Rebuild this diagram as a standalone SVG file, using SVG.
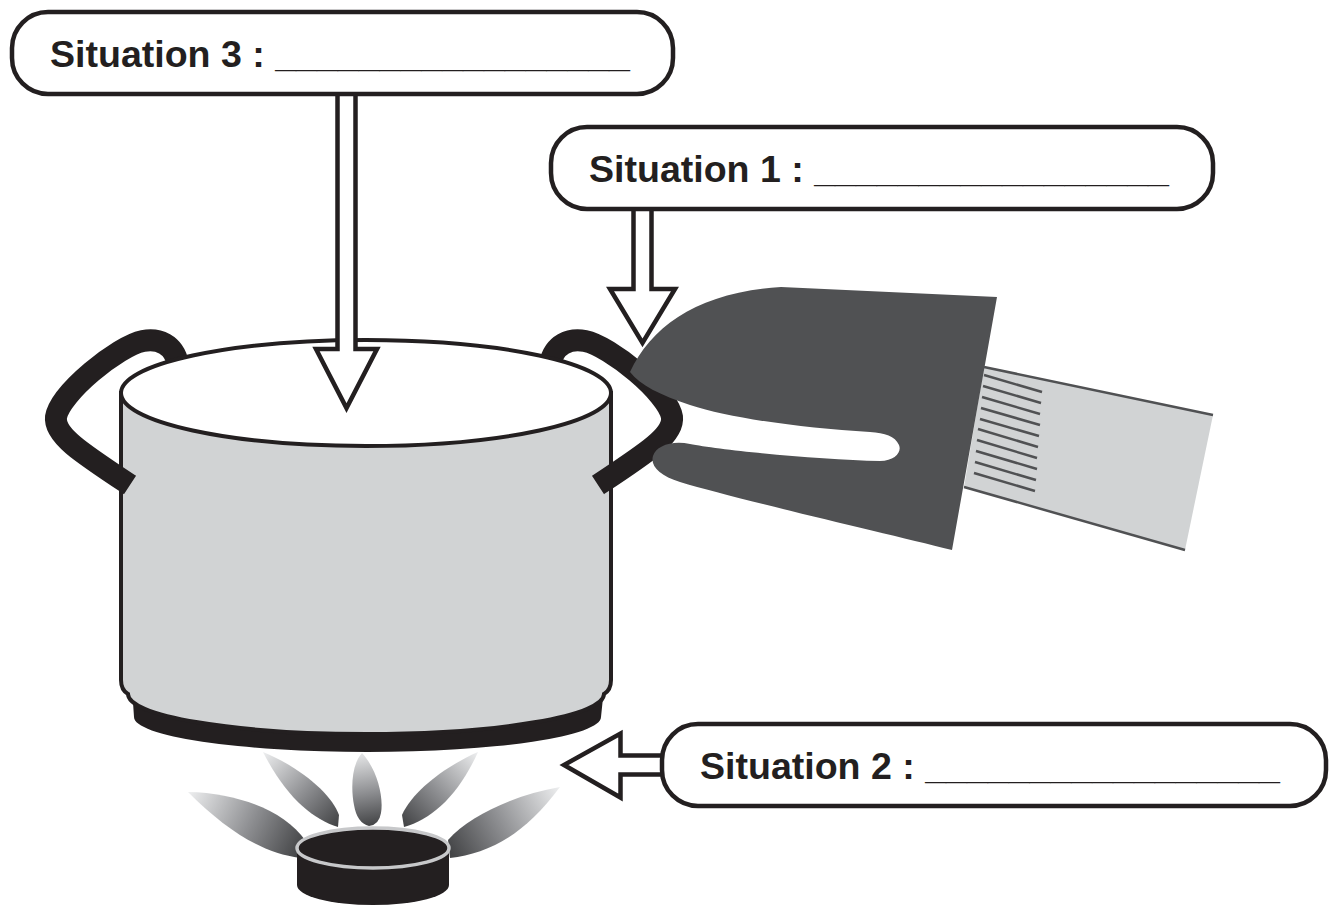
<svg xmlns="http://www.w3.org/2000/svg" width="1335" height="905" viewBox="0 0 1335 905">
<style>
.ink{stroke:#231f20;stroke-width:4;}
.box{fill:#ffffff;stroke:#231f20;stroke-width:4.5;}
.lbl{font-family:"Liberation Sans",Arial,sans-serif;font-weight:bold;font-size:37px;fill:#231f20;}
.arrow{fill:#ffffff;stroke:#231f20;stroke-width:4.5;stroke-linejoin:miter;stroke-miterlimit:10;}
.handle{fill:none;stroke:#231f20;stroke-width:22;stroke-linecap:butt;}
.stripe{stroke:#505153;stroke-width:2.5;}
</style>
<defs>
<linearGradient id="f1" gradientUnits="userSpaceOnUse" x1="188" y1="792" x2="302" y2="848"><stop offset="0" stop-color="#eeeff0"/><stop offset="0.55" stop-color="#8e8f92"/><stop offset="1" stop-color="#444547"/></linearGradient>
<linearGradient id="f2" gradientUnits="userSpaceOnUse" x1="263" y1="752" x2="338" y2="824"><stop offset="0" stop-color="#eeeff0"/><stop offset="0.55" stop-color="#8e8f92"/><stop offset="1" stop-color="#444547"/></linearGradient>
<linearGradient id="f3" gradientUnits="userSpaceOnUse" x1="360" y1="753" x2="372" y2="825"><stop offset="0" stop-color="#e6e7e8"/><stop offset="0.55" stop-color="#8e8f92"/><stop offset="1" stop-color="#444547"/></linearGradient>
<linearGradient id="f4" gradientUnits="userSpaceOnUse" x1="478" y1="752" x2="404" y2="824"><stop offset="0" stop-color="#eeeff0"/><stop offset="0.55" stop-color="#8e8f92"/><stop offset="1" stop-color="#444547"/></linearGradient>
<linearGradient id="f5" gradientUnits="userSpaceOnUse" x1="560" y1="787" x2="449" y2="849"><stop offset="0" stop-color="#eeeff0"/><stop offset="0.55" stop-color="#8e8f92"/><stop offset="1" stop-color="#444547"/></linearGradient>
</defs>
<rect width="1335" height="905" fill="#ffffff"/>

<g id="flames">
<path d="M188,792 C240,793 285,812 305,840 L300,858 C263,853 228,832 188,792 Z" fill="url(#f1)"/>
<path d="M263,752 C302,768 332,795 339,815 L338,827 C312,819 286,797 263,752 Z" fill="url(#f2)"/>
<path d="M362,753 C376,768 384,795 381,813 Q379,825 369,826 Q357,823 354,805 C351,790 351,765 362,753 Z" fill="url(#f3)"/>
<path d="M478,752 C448,765 413,790 402,815 L404,827 C432,819 458,796 478,752 Z" fill="url(#f4)"/>
<path d="M560,787 C515,795 470,815 448,840 L450,858 C487,853 522,838 560,787 Z" fill="url(#f5)"/>
</g>

<g id="burner">
<path d="M297,848 L297,885 A76,20 0 0 0 449,885 L449,848 Z" fill="#231f20"/>
<ellipse cx="373" cy="848" rx="76" ry="20" fill="#231f20" stroke="#c7c8ca" stroke-width="3.5"/>
</g>

<g id="pot">
<path d="M132,688 L134,717 A233.5,35 0 0 0 601,717 L604,688 Z" fill="#231f20"/>
<path class="ink" d="M121,393 V680 Q121,690 128,694 A238,40 0 0 0 604,694 Q611,690 611,680 V393 Z" fill="#d1d3d4"/>
<path class="handle" d="M178,364 C174,344 158,338 143,341 C118,346 60,393 56,417 C54,435 80,452 130,485"/>
<path class="handle" d="M550,364 C554,344 570,338 585,341 C610,346 668,393 672,417 C674,435 648,452 598,485"/>
<ellipse class="ink" cx="366" cy="393" rx="245" ry="53" fill="#ffffff"/>
</g>

<g id="glove">
<polygon points="984,367 1213,415 1185,550 964,487" fill="#d1d3d4"/>
<line class="stripe" x1="984" y1="367" x2="1213" y2="415"/>
<line class="stripe" x1="964" y1="487" x2="1185" y2="550"/>
<line class="stripe" x1="984" y1="375" x2="1042" y2="392"/>
<line class="stripe" x1="983" y1="386" x2="1041" y2="403"/>
<line class="stripe" x1="982" y1="397" x2="1040" y2="414"/>
<line class="stripe" x1="981" y1="408" x2="1040" y2="425"/>
<line class="stripe" x1="980" y1="419" x2="1039" y2="436"/>
<line class="stripe" x1="978" y1="429" x2="1038" y2="447"/>
<line class="stripe" x1="977" y1="440" x2="1037" y2="458"/>
<line class="stripe" x1="976" y1="451" x2="1037" y2="469"/>
<line class="stripe" x1="975" y1="462" x2="1036" y2="480"/>
<line class="stripe" x1="974" y1="473" x2="1035" y2="491"/>
<path d="M630,372 C652,325 700,292 781,287 L997,297 L952,550 C880,532 740,500 680,482 C660,476 650,466 653,456 C656,446 672,440 690,444 C720,450 820,460 880,461 C895,461 902,452 899,445 C895,436 885,433 870,432 C800,428 730,418 690,405 C660,395 640,385 630,372 Z" fill="#505153"/>
</g>

<g id="connectors">
<polygon class="arrow" points="337.5,92 337.5,349 316,349 346.5,408 377,349 355.5,349 355.5,92"/>
<polygon class="arrow" points="633.5,207 633.5,289 610,289 642.5,343 675,289 651.5,289 651.5,207"/>
<polygon class="arrow" points="666,755.5 620.5,755.5 620.5,733.5 564,765 620.5,797.5 620.5,774.5 666,774.5"/>
</g>

<g id="node-situation3">
<rect class="box" x="12" y="12" width="661" height="82" rx="36"/>
<text class="lbl" x="50" y="67" textLength="580" lengthAdjust="spacingAndGlyphs">Situation 3 : _________________</text>
</g>
<g id="node-situation1">
<rect class="box" x="551" y="127" width="662" height="82" rx="36"/>
<text class="lbl" x="589" y="182" textLength="580" lengthAdjust="spacingAndGlyphs">Situation 1 : _________________</text>
</g>
<g id="node-situation2">
<rect class="box" x="662" y="724" width="664" height="82" rx="36"/>
<text class="lbl" x="700" y="779" textLength="580" lengthAdjust="spacingAndGlyphs">Situation 2 : _________________</text>
</g>
</svg>
